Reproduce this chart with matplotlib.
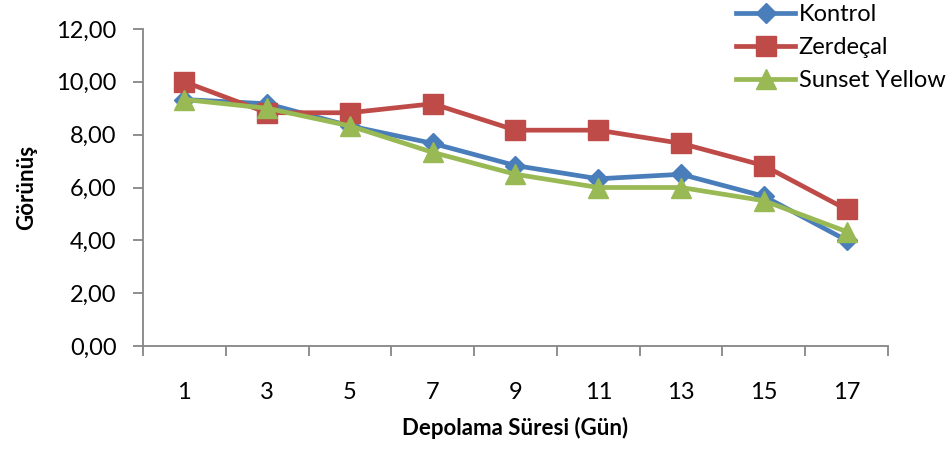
import matplotlib.pyplot as plt
import numpy as np
from matplotlib.ticker import FuncFormatter, FixedLocator

plt.rcParams['font.family'] = ['Lato', 'DejaVu Sans']

# storage days and appearance scores
days = ['1', '3', '5', '7', '9', '11', '13', '15', '17']
kontrol = [9.33, 9.17, 8.33, 7.67, 6.83, 6.33, 6.50, 5.67, 4.00]
zerdecal = [10.00, 8.83, 8.83, 9.17, 8.17, 8.17, 7.67, 6.83, 5.17]
sunset = [9.33, 9.00, 8.33, 7.33, 6.50, 6.00, 6.00, 5.50, 4.33]

fig = plt.figure(figsize=(9.53, 4.5), dpi=100)
ax = fig.add_axes([143 / 953, 1 - 346 / 450, 745 / 953, 317 / 450])

x = np.arange(len(days))
ax.plot(x, kontrol, color='#4A7EBB', lw=3.4, marker='D', ms=10, label='Kontrol', zorder=3)
ax.plot(x, zerdecal, color='#BE4B48', lw=3.4, marker='s', ms=14, label='Zerdeçal', zorder=3)
ax.plot(x, sunset, color='#98B954', lw=3.4, marker='^', ms=15, label='Sunset Yellow', zorder=4)

ax.set_xlim(-0.5, len(days) - 0.5)
ax.set_ylim(0, 12)
ax.set_yticks(np.arange(0, 13, 2))
ax.yaxis.set_major_formatter(FuncFormatter(lambda v, p: f'{v:.2f}'.replace('.', ',')))

# ticks sit between categories, labels at the centres
ax.xaxis.set_major_locator(FixedLocator(np.arange(-0.5, len(days), 1)))
ax.xaxis.set_major_formatter(FuncFormatter(lambda v, p: ''))
ax.xaxis.set_minor_locator(FixedLocator(x))
ax.set_xticklabels(days, minor=True)
ax.tick_params(axis='x', which='major', length=7, width=1.3, color='#868686', direction='out')
ax.tick_params(axis='x', which='minor', length=0, pad=26, labelsize=17)
ax.tick_params(axis='y', length=7, width=1.3, color='#868686', direction='out', labelsize=17, pad=12)

for s in ['top', 'right']:
    ax.spines[s].set_visible(False)
for s in ['left', 'bottom']:
    ax.spines[s].set_color('#868686')
    ax.spines[s].set_linewidth(1.3)

ax.set_xlabel('Depolama Süresi (Gün)', fontsize=16, fontweight='bold', labelpad=10)
ax.set_ylabel('Görünüş', fontsize=16, fontweight='bold', labelpad=14)

leg = ax.legend(loc='upper left', bbox_to_anchor=(735 / 953, 0.993), bbox_transform=fig.transFigure,
                frameon=False, fontsize=17, handlelength=2.5, handletextpad=0.15,
                labelspacing=0.5, borderaxespad=0.0, borderpad=0.05)

fig.savefig('out.png', dpi=100)
